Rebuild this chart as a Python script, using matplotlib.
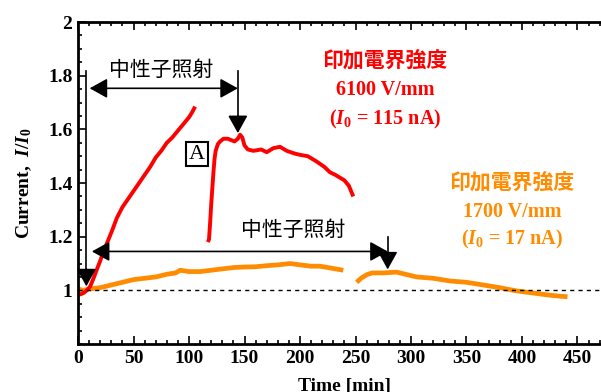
import matplotlib
matplotlib.use("Agg")
import matplotlib.pyplot as plt
from matplotlib.ticker import MultipleLocator

plt.rcParams['font.family'] = ['Liberation Serif', 'DejaVu Serif']
plt.rcParams['mathtext.fontset'] = 'custom'
plt.rcParams['mathtext.rm'] = 'Liberation Serif:bold'
plt.rcParams['mathtext.it'] = 'Liberation Serif:italic:bold'
plt.rcParams['mathtext.bf'] = 'Liberation Serif:bold'

# ---- data ----
red1_t = [0, 2, 5, 8, 11, 14, 17, 20, 23, 27, 31, 35, 40, 45, 50, 55, 60, 65, 70, 75, 80, 85, 90, 95, 100, 103, 105.5]
red1_v = [0.985, 0.985, 0.99, 1.0, 1.015, 1.045, 1.078, 1.11, 1.145, 1.185, 1.226, 1.27, 1.31, 1.34, 1.37, 1.40,
          1.43, 1.46, 1.495, 1.52, 1.55, 1.57, 1.595, 1.62, 1.645, 1.665, 1.685]

red2_t = [117, 118, 119, 120, 121, 122, 123, 124, 126, 128, 131, 135, 138, 141, 144, 146, 148, 150, 153, 158, 165,
          170, 176, 182, 188, 195, 200, 207, 215, 222, 227, 232, 236, 240, 244, 246, 248]
red2_v = [1.18, 1.19, 1.25, 1.32, 1.38, 1.44, 1.49, 1.52, 1.545, 1.555, 1.565, 1.565, 1.56, 1.555, 1.565, 1.58, 1.57,
          1.54, 1.525, 1.52, 1.525, 1.515, 1.53, 1.535, 1.52, 1.51, 1.505, 1.50, 1.48, 1.46, 1.44, 1.43, 1.42, 1.41,
          1.39, 1.37, 1.35]

or1_t = [0, 5, 10, 20, 30, 40, 50, 60, 70, 80, 88, 92, 100, 110, 120, 130, 140, 150, 160, 170, 180, 191, 200, 210,
         218, 225, 232, 239]
or1_v = [1.005, 1.0, 1.005, 1.01, 1.02, 1.03, 1.04, 1.045, 1.05, 1.06, 1.065, 1.075, 1.07, 1.07, 1.075, 1.08, 1.085,
         1.087, 1.088, 1.092, 1.095, 1.10, 1.095, 1.09, 1.09, 1.085, 1.08, 1.075]

or2_t = [251, 255, 260, 265, 275, 287, 295, 305, 320, 335, 350, 365, 380, 395, 410, 425, 435, 441]
or2_v = [1.03, 1.045, 1.058, 1.065, 1.065, 1.068, 1.06, 1.05, 1.045, 1.035, 1.03, 1.02, 1.01, 0.998, 0.99, 0.982,
         0.978, 0.976]

x_ticks = [0, 50, 100, 150, 200, 250, 300, 350, 400, 450]
y_ticks = [1, 1.2, 1.4, 1.6, 1.8, 2]
y_ticklabels = ['1', '1.2', '1.4', '1.6', '1.8', '2']

RED = '#ff0000'
ORANGE = '#ff8c00'
CJK = ['Noto Sans CJK JP', 'DejaVu Sans']

fig = plt.figure(figsize=(6.01, 3.92), dpi=100)
ax = fig.add_axes([0.1298, 0.1224, 0.8865, 0.8214])

ax.plot(or1_t, or1_v, color=ORANGE, lw=3.4, solid_capstyle='butt')
ax.plot(or2_t, or2_v, color=ORANGE, lw=3.4, solid_capstyle='butt')
ax.plot(red1_t, red1_v, color=RED, lw=2.8, solid_capstyle='butt')
ax.plot(red2_t, red2_v, color=RED, lw=2.8, solid_capstyle='butt')

ax.axhline(1.0, color='black', lw=1.0, dashes=(3, 3))

ax.set_xlim(0, 480)
ax.set_ylim(0.8, 2.0)
ax.set_xticks(x_ticks)
ax.set_yticks(y_ticks)
ax.set_yticklabels(y_ticklabels)
ax.xaxis.set_minor_locator(MultipleLocator(10))
ax.yaxis.set_minor_locator(MultipleLocator(0.05))
ax.tick_params(which='both', direction='in', top=True, right=False, width=1.2)
ax.tick_params(which='major', length=6, labelsize=14, pad=4)
ax.tick_params(which='minor', length=3)
for lab in ax.get_xticklabels() + ax.get_yticklabels():
    lab.set_fontweight('bold')
for s in ['left', 'bottom', 'top']:
    ax.spines[s].set_linewidth(2)
ax.spines['right'].set_visible(False)

ax.set_xlabel('Time [min]', fontsize=14, fontweight='bold', labelpad=8)
ax.set_ylabel(r'Current,  $\mathit{I/I_0}$', fontsize=14, fontweight='bold', labelpad=10)

# arrows
hs = dict(color='black', lw=1.2, shrinkA=0, shrinkB=0, mutation_scale=24)
ax.plot([7.5, 7.5], [1.816, 1.07], color='black', lw=1.2)
ax.annotate('', xy=(7.5, 1.015), xytext=(7.5, 1.08),
            arrowprops=dict(arrowstyle='-|>,head_length=0.45,head_width=0.25', **hs))
ax.plot([144, 144], [1.816, 1.62], color='black', lw=1.2)
ax.annotate('', xy=(144, 1.586), xytext=(144, 1.65),
            arrowprops=dict(arrowstyle='-|>,head_length=0.45,head_width=0.25', **hs))
ax.annotate('', xy=(10.5, 1.753), xytext=(144, 1.753),
            arrowprops=dict(arrowstyle='<|-|>,head_length=0.45,head_width=0.25', **hs))

ax.plot([279, 279], [1.197, 1.12], color='black', lw=1.2)
ax.annotate('', xy=(279, 1.078), xytext=(279, 1.14),
            arrowprops=dict(arrowstyle='-|>,head_length=0.45,head_width=0.25', **hs))
ax.annotate('', xy=(12.5, 1.145), xytext=(279, 1.145),
            arrowprops=dict(arrowstyle='<|-|>,head_length=0.45,head_width=0.25', **hs))

ax.text(75, 1.82, '中性子照射', family=CJK, fontsize=15, ha='center', va='center', color='black')
ax.text(194, 1.226, '中性子照射', family=CJK, fontsize=15, ha='center', va='center', color='black')

ax.text(107, 1.508, 'A', fontsize=16, ha='center', va='center', color='black',
        bbox=dict(boxstyle='square,pad=0.12', fc='white', ec='black', lw=1.5))

# red labels
ax.text(276.6, 1.857, '印加電界強度', family=CJK, fontweight='bold', fontsize=15, ha='center', va='center', color=RED)
ax.text(276.6, 1.746, '6100 V/mm', fontsize=14.5, fontweight='bold', ha='center', va='center', color=RED)
ax.text(276.6, 1.635, r'($\mathit{I_0}$ = 115 nA)', fontsize=14.5, fontweight='bold', ha='center', va='center', color=RED)

# orange labels
ax.text(391, 1.404, '印加電界強度', family=CJK, fontweight='bold', fontsize=15, ha='center', va='center', color=ORANGE)
ax.text(391, 1.293, '1700 V/mm', fontsize=14.5, fontweight='bold', ha='center', va='center', color=ORANGE)
ax.text(391, 1.189, r'($\mathit{I_0}$ = 17 nA)', fontsize=14.5, fontweight='bold', ha='center', va='center', color=ORANGE)

fig.savefig('out.png', dpi=100)
